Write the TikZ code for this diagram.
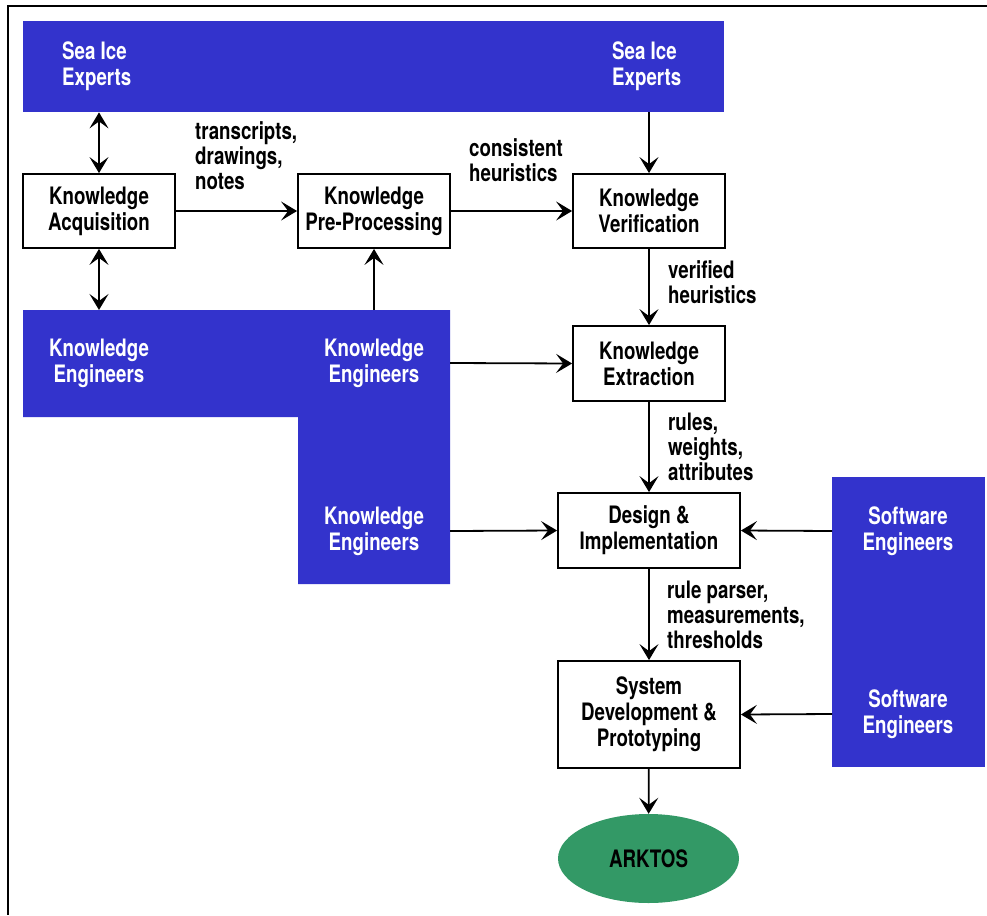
\documentclass[tikz,border=0pt]{standalone}
\usepackage{fontspec}
\setmainfont{TeX Gyre Heros}[FakeStretch=0.78]
\usetikzlibrary{arrows.meta,shapes.geometric}
\definecolor{iceblue}{RGB}{51,51,204}
\definecolor{arkgreen}{RGB}{51,153,102}
\begin{document}
\begin{tikzpicture}[x=1pt,y=-1pt,
  font=\bfseries\fontsize{24}{26}\selectfont,
  stepbox/.style={draw,line width=1.8pt,fill=white,inner sep=0pt,align=center},
  bluetext/.style={text=white,align=center,inner sep=0pt},
  lbl/.style={align=left,anchor=north west,inner sep=0pt,font=\bfseries\fontsize{24}{25}\selectfont},
  tip/.tip={Stealth[length=16pt,width=19pt,inset=7pt]},
  arr/.style={line width=1.8pt,-tip},
  darr/.style={line width=1.8pt,tip-tip}]
\useasboundingbox (0,0) rectangle (987,915);
\draw[line width=2pt] (987,6) -- (8,6) -- (8,915);
% blue regions
\node[fill=iceblue,minimum width=701pt,minimum height=91pt,inner sep=0pt,anchor=north west] (sea) at (23,21) {};
\fill[iceblue] (23,310) -- (450,310) -- (450,584) -- (298,584) -- (298,417) -- (23,417) -- cycle;
\fill[iceblue] (832,477) rectangle (985,767);
\coordinate (ke1top) at (99,310);
\coordinate (ke2top) at (374,310);
\coordinate (keR1) at (450,363);
\coordinate (keR2) at (450,531);
\coordinate (se1) at (832,531);
\coordinate (se2) at (832,714);
% blue texts
\node[bluetext,align=left,anchor=west] (sie1) at (62,66) {Sea Ice\\Experts};
\node[bluetext,align=left,anchor=west] (sie2) at (612,66) {Sea Ice\\Experts};
\node[bluetext] (ken1) at (99,363) {Knowledge\\Engineers};
\node[bluetext] (ken2) at (374,363) {Knowledge\\Engineers};
\node[bluetext] (ken3) at (374,531) {Knowledge\\Engineers};
\node[bluetext] (sen1) at (908,531) {Software\\Engineers};
\node[bluetext] (sen2) at (908,714) {Software\\Engineers};
% process boxes
\node[stepbox,minimum width=152pt,minimum height=74pt] (acq) at (99,211) {Knowledge\\Acquisition};
\node[stepbox,minimum width=152pt,minimum height=74pt] (pre) at (374,211) {Knowledge\\Pre-Processing};
\node[stepbox,minimum width=152pt,minimum height=74pt] (ver) at (649,211) {Knowledge\\Verification};
\node[stepbox,minimum width=152pt,minimum height=75pt] (ext) at (649,363.5) {Knowledge\\Extraction};
\node[stepbox,minimum width=182pt,minimum height=75pt] (des) at (649,530.5) {Design \&\\Implementation};
\node[stepbox,minimum width=182pt,minimum height=107pt] (sys) at (649,714.5) {System\\Development \&\\Prototyping};
\node[ellipse,fill=arkgreen,minimum width=181pt,minimum height=89pt,inner sep=0pt] (ark) at (648.5,858.5) {ARKTOS};
% connectors
\draw[darr] (acq.north) -- (acq.north |- sea.south);
\draw[darr] (acq.south) -- (ke1top);
\draw[arr] (ke2top) -- (pre.south);
\draw[arr] (acq) -- (pre);
\draw[arr] (pre) -- (ver);
\draw[arr] (ver.north |- sea.south) -- (ver.north);
\draw[arr] (ver) -- (ext);
\draw[arr] (ext) -- (des);
\draw[arr] (des) -- (sys);
\draw[arr] (sys) -- (ark);
\draw[arr] (keR1) -- (ext.west);
\draw[arr] (keR2) -- (des.west);
\draw[arr] (se1) -- (des.east);
\draw[arr] (se2) -- (sys.east);
% labels
\node[lbl] (l1) at (195,121) {transcripts,\\drawings,\\notes};
\node[lbl] (l2) at (469,138) {consistent\\heuristics};
\node[lbl] (l3) at (668,260) {verified\\heuristics};
\node[lbl] (l4) at (668,413) {rules,\\weights,\\attributes};
\node[lbl] (l5) at (667,581) {rule parser,\\measurements,\\thresholds};
\end{tikzpicture}
\end{document}
